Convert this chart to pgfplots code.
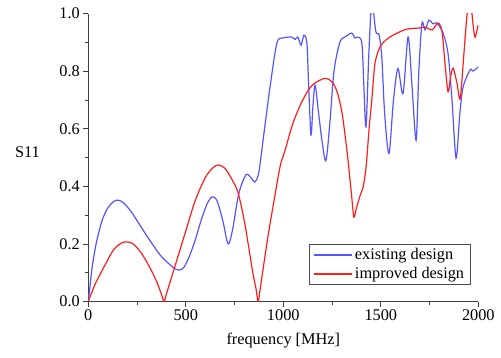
\documentclass[border=0pt]{standalone}
\usepackage{pgfplots}
\pgfplotsset{compat=1.18}
\usepackage{fontspec}
\setmainfont{Liberation Serif}
\definecolor{cblue}{RGB}{85,85,255}
\definecolor{cred}{RGB}{255,30,30}
\begin{document}
\begin{tikzpicture}
\useasboundingbox (-88.3pt,-55.5pt) rectangle (412.7pt,301.5pt);
\begin{axis}[
  scale only axis, width=390pt, height=288pt,
  xmin=0, xmax=2000, ymin=0, ymax=1,
  axis lines=left, axis line style={-, line width=1pt, black!75},
  tick align=outside, tick style={black!75, line width=0.8pt},
  major tick length=5pt, minor tick length=3pt,
  xtick={0,500,1000,1500,2000}, ytick={0,0.2,0.4,0.6,0.8,1.0},
  minor x tick num=1, minor y tick num=1,
  /pgf/number format/assume math mode=true,
  /pgf/number format/1000 sep={},
  yticklabel style={/pgf/number format/.cd, fixed, precision=1, zerofill},
  font=\fontsize{16.3}{19}\selectfont,
  ticklabel style={font=\fontsize{16.3}{19}\selectfont},
  xlabel={frequency [MHz]}, ylabel={S11},
  every axis x label/.style={at={(axis description cs:0.5,-0.134)}, anchor=center},
  every axis y label/.style={at={(axis description cs:-0.156,0.52)}, anchor=center},
  legend style={at={(0.981,0.057)}, anchor=south east, draw=black!70, line width=0.6pt,
    font=\fontsize{16.3}{19}\selectfont, inner xsep=4pt, inner ysep=2pt, row sep=1pt,
    nodes={inner sep=2.5pt}},
  legend cell align=left,
  legend image code/.code={\draw[#1, line width=1.3pt] plot coordinates {(0pt,0pt) (19pt,0pt) (38pt,0pt)};},
  clip=true,
]
\addplot[cblue, line width=1.2pt, smooth, tension=0.5] coordinates {
(0,0) (10,0.06) (20,0.12) (40,0.2) (70,0.28) (100,0.325) (130,0.347) (152,0.352)
(180,0.343) (220,0.312) (260,0.27) (300,0.228) (328,0.2) (370,0.16) (410,0.133)
(440,0.116) (465,0.109) (490,0.118) (520,0.16) (548,0.213) (580,0.285) (610,0.34)
(635,0.363) (660,0.35) (690,0.28) (717,0.2) (740,0.25) (770,0.37) (800,0.43)
(816,0.442) (840,0.425) (855,0.415) (875,0.45) (900,0.58) (932,0.745) (967,0.897)
(998,0.915) (1044,0.918) (1060,0.91) (1075,0.918) (1091,0.89) (1106,0.925)
(1121,0.897) (1130,0.75) (1142,0.578) (1152,0.68) (1163,0.751) (1180,0.66)
(1200,0.55) (1219,0.49) (1240,0.63) (1260,0.8) (1290,0.9) (1320,0.92)
(1351,0.932) (1367,0.915) (1382,0.918) (1403,0.897) (1413,0.75) (1424,0.606)
(1438,0.85) (1448,0.99) (1454,1.02) (1460,1.02) (1475,0.936) (1491,0.925)
(1505,0.85) (1520,0.65) (1542,0.514) (1565,0.7) (1588,0.809) (1614,0.722)
(1640,0.918) (1660,0.75) (1681,0.56) (1695,0.8) (1711,0.966) (1727,0.943)
(1747,0.977) (1768,0.964) (1788,0.967) (1819,0.932) (1845,0.86) (1865,0.7)
(1886,0.498) (1905,0.65) (1922,0.745) (1958,0.804) (1973,0.8) (1999,0.814)
};
\addlegendentry{existing design}
\addplot[cred, line width=1.2pt, smooth, tension=0.5] coordinates {
(0,0) (35,0.06) (86,0.127) (130,0.18) (170,0.203) (198,0.207) (230,0.2)
(270,0.17) (310,0.125) (350,0.07) (375,0.025) (389,0) (400,0.025) (450,0.135)
(500,0.245) (548,0.35) (600,0.43) (640,0.465) (666,0.474) (700,0.463)
(740,0.42) (769,0.376) (800,0.28) (820,0.2) (845,0.095) (860,0.045) (871,0)
(882,0.046) (920,0.22) (950,0.34) (983,0.467) (1009,0.525) (1050,0.62)
(1100,0.7) (1150,0.752) (1214,0.775) (1250,0.762) (1275,0.73) (1300,0.66)
(1320,0.56) (1332,0.49) (1350,0.37) (1362,0.293) (1375,0.325) (1395,0.37)
(1410,0.40) (1425,0.47) (1440,0.6) (1454,0.7) (1470,0.826) (1496,0.884)
(1530,0.91) (1563,0.925) (1600,0.937) (1635,0.946) (1700,0.95) (1727,0.953)
(1763,0.943) (1794,0.967) (1814,0.936) (1830,0.82) (1845,0.728) (1858,0.78)
(1871,0.81) (1890,0.76) (1907,0.705) (1925,0.85) (1940,0.98) (1950,1.03)
(1962,1.03) (1975,0.95) (1984,0.918) (1999,0.96)
};
\addlegendentry{improved design}
\end{axis}
\end{tikzpicture}
\end{document}
